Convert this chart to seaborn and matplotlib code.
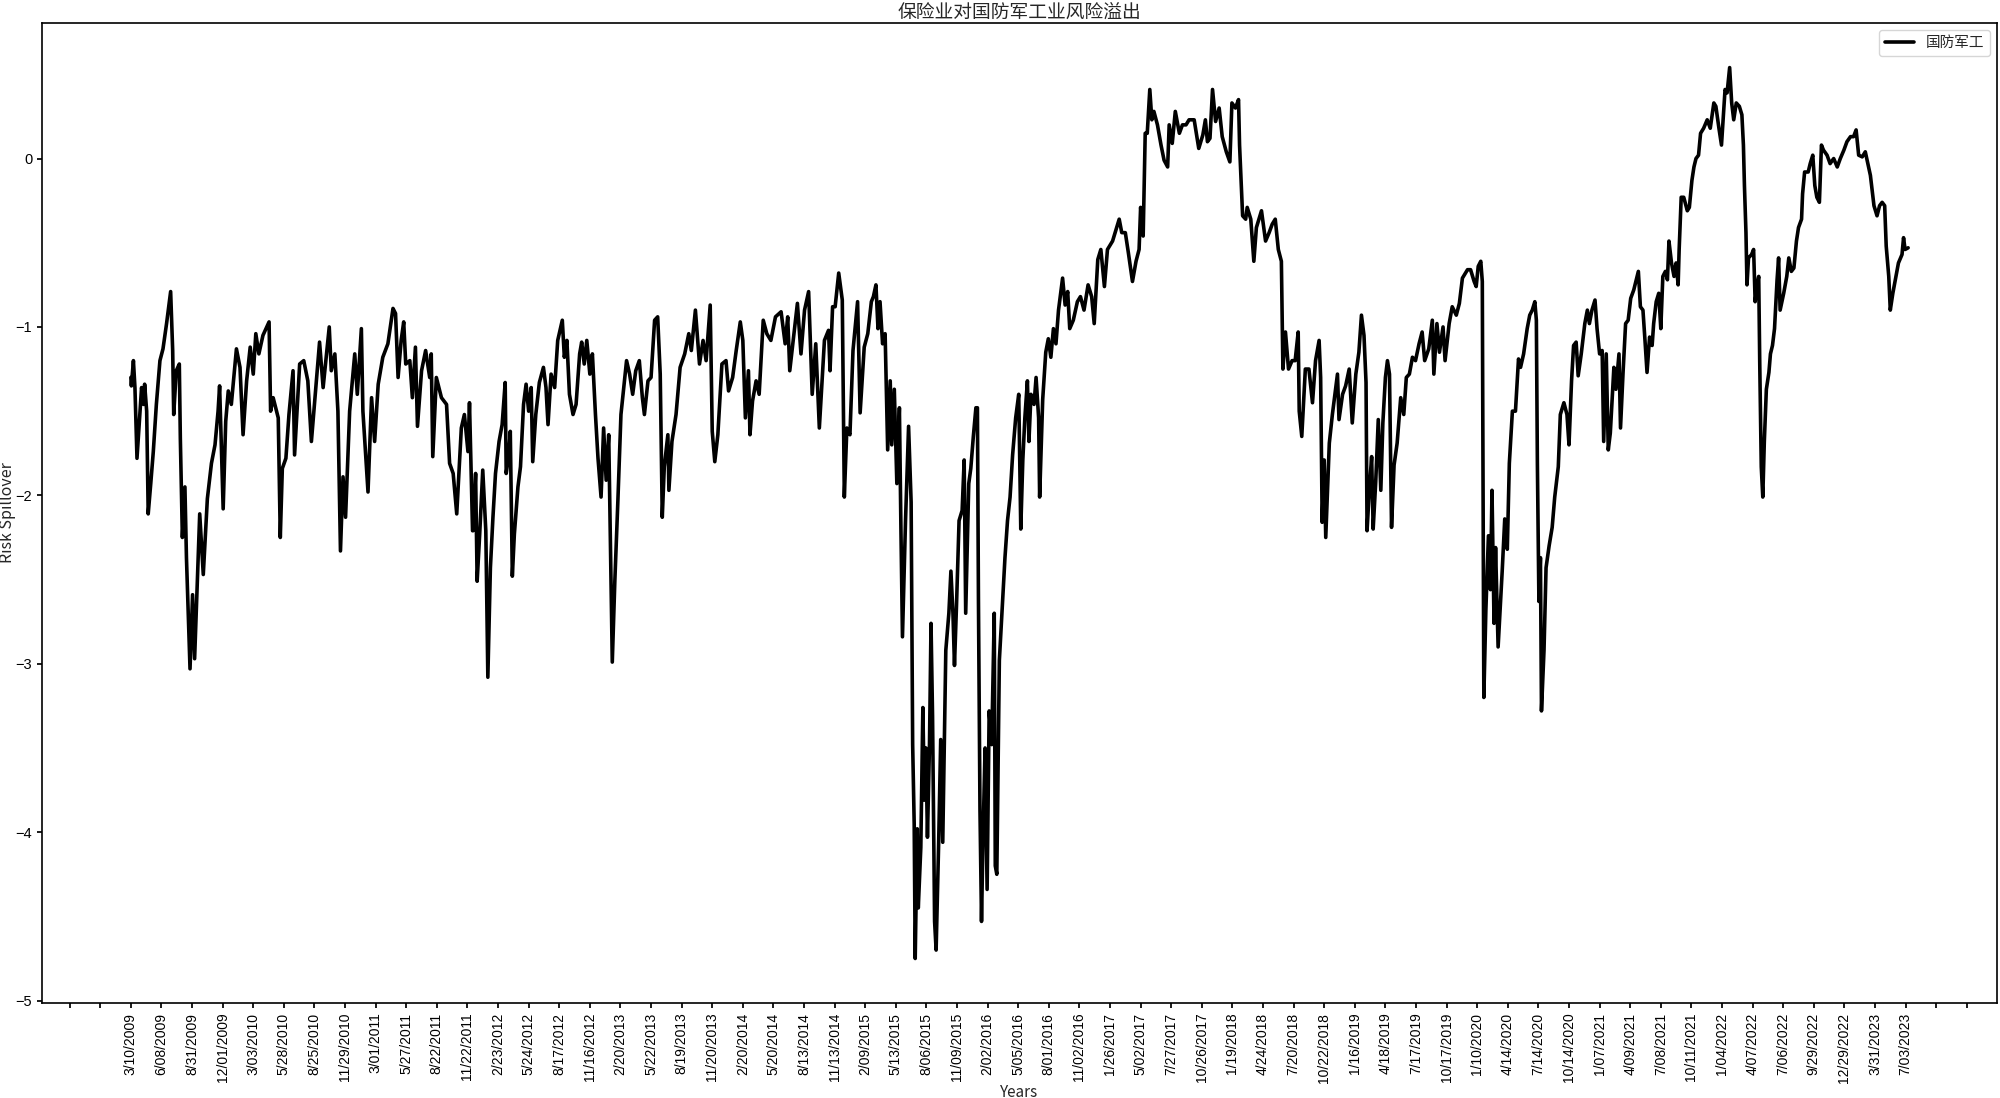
import matplotlib
matplotlib.use("Agg")
import matplotlib.pyplot as plt
from matplotlib.ticker import MultipleLocator, FuncFormatter
import pandas as pd
import seaborn as sns

# date labels, one every 60 trading days starting at day 0
tick_dates = [
    '3/10/2009', '6/08/2009', '8/31/2009', '12/01/2009', '3/03/2010', '5/28/2010',
    '8/25/2010', '11/29/2010', '3/01/2011', '5/27/2011', '8/22/2011', '11/22/2011',
    '2/23/2012', '5/24/2012', '8/17/2012', '11/16/2012', '2/20/2013', '5/22/2013',
    '8/19/2013', '11/20/2013', '2/20/2014', '5/20/2014', '8/13/2014', '11/13/2014',
    '2/09/2015', '5/13/2015', '8/06/2015', '11/09/2015', '2/02/2016', '5/05/2016',
    '8/01/2016', '11/02/2016', '1/26/2017', '5/02/2017', '7/27/2017', '10/26/2017',
    '1/19/2018', '4/24/2018', '7/20/2018', '10/22/2018', '1/16/2019', '4/18/2019',
    '7/17/2019', '10/17/2019', '1/10/2020', '4/14/2020', '7/14/2020', '10/14/2020',
    '1/07/2021', '4/09/2021', '7/08/2021', '10/11/2021', '1/04/2022', '4/07/2022',
    '7/06/2022', '9/29/2022', '12/29/2022', '3/31/2023', '7/03/2023',
]
tick_step = 60

# trading-day index and risk spillover value
trade_day = [
    0, 1, 5, 8, 12, 18, 21, 25, 27, 31, 34, 39, 44, 50, 57, 63, 70, 78, 82, 84,
    89, 95, 97, 101, 106, 109, 116, 121, 125, 135, 142, 150, 158, 165, 171, 174, 181, 186, 191, 197,
    207, 214, 220, 227, 234, 240, 245, 251, 259, 271, 274, 279, 289, 293, 297, 304, 310, 318, 321, 331,
    339, 347, 354, 361, 370, 377, 383, 389, 393, 400, 406, 411, 416, 421, 429, 439, 444, 452, 455, 465,
    472, 478, 485, 494, 504, 514, 519, 524, 530, 535, 539, 547, 552, 558, 562, 570, 578, 586, 589, 592,
    599, 609, 619, 625, 632, 639, 648, 654, 661, 664, 670,
    671, 676, 679, 684, 690, 696, 700, 705, 710, 715, 722, 728, 734, 736, 741, 744, 748, 752, 759, 764,
    770, 775, 780, 785, 788, 794, 801, 809, 814, 818, 824, 831, 837, 846, 850, 855, 860, 867, 873, 880,
    884, 889, 894, 900, 905, 911, 916, 922, 927, 932, 937, 944, 949, 955, 961, 968, 972, 978, 984, 990,
    997, 1003, 1007, 1014, 1020, 1027, 1033, 1038, 1042, 1046, 1053, 1055, 1061, 1069, 1077, 1086, 1094, 1099, 1107, 1115,
    1122, 1128, 1136, 1140, 1145, 1151, 1159, 1167, 1172, 1180, 1187, 1195, 1200, 1205, 1211, 1214, 1219, 1226, 1232, 1240,
    1247, 1255, 1264, 1275, 1283, 1288, 1292, 1301, 1307, 1314, 1321, 1329, 1336, 1343, 1350, 1360, 1368, 1371, 1376, 1381,
    1388, 1395, 1399, 1404, 1410, 1416,
    1425, 1430, 1438, 1445, 1452, 1456, 1461, 1465, 1469, 1474, 1479, 1484, 1489, 1492, 1497, 1502, 1507, 1510, 1513, 1519,
    1525, 1530, 1533, 1536, 1538, 1542, 1544, 1549, 1553, 1556, 1559, 1562, 1566, 1569, 1572, 1576, 1579, 1584, 1588, 1592,
    1598, 1604, 1608, 1612, 1615, 1619, 1624, 1630, 1634, 1637, 1643, 1647, 1652, 1657, 1660, 1662, 1665, 1668, 1671, 1675,
    1679, 1683, 1688, 1693, 1695, 1698, 1703, 1709, 1714, 1719, 1724, 1729, 1735, 1741, 1745, 1749, 1753, 1758, 1761, 1765,
    1771, 1775, 1780, 1782, 1788, 1794, 1799, 1804, 1809, 1814, 1819, 1827, 1832, 1837, 1841, 1848, 1856, 1862, 1869, 1877,
    1884, 1889, 1896, 1902, 1909, 1915, 1925,
    1938, 1943, 1950, 1956, 1964, 1971, 1977, 1980, 1985, 1989, 1993, 1998, 2002, 2006, 2013, 2020, 2026, 2033, 2036, 2042,
    2048, 2056, 2062, 2069, 2075, 2085, 2094, 2102, 2107, 2111, 2116, 2121, 2127, 2134, 2140, 2148, 2155, 2159, 2166, 2172,
    2174, 2180, 2186, 2189, 2196, 2202, 2207, 2212, 2217, 2225, 2232, 2238, 2244, 2250, 2256, 2259, 2264, 2270, 2277, 2283,
    2289, 2291, 2296, 2303, 2310, 2317, 2323, 2330, 2333, 2336, 2340, 2343, 2350, 2356, 2361, 2366, 2369, 2376, 2382, 2389,
    2395, 2402, 2408, 2413, 2418, 2422, 2424, 2429, 2433, 2436, 2441, 2446, 2451, 2455, 2460, 2464, 2468, 2472, 2477, 2483,
    2490, 2496, 2501, 2507, 2513, 2519, 2526, 2532, 2537, 2545, 2552, 2555, 2561, 2566, 2573, 2577, 2585, 2591, 2599, 2605,
    2611, 2621, 2627, 2634, 2638, 2642, 2647, 2650, 2653, 2657, 2662, 2666, 2669, 2673, 2676, 2681,
    2689, 2694, 2699, 2703, 2709, 2715, 2721, 2725, 2731, 2738, 2743, 2748, 2753, 2756, 2758, 2761, 2764, 2766, 2771, 2775,
    2781, 2787, 2792, 2799, 2803, 2810, 2816, 2820, 2825, 2829, 2834, 2838, 2844, 2851, 2856, 2860, 2865, 2871, 2875, 2880,
    2885, 2888, 2893, 2897, 2901, 2908, 2912, 2918, 2921, 2926, 2931, 2936, 2941, 2947, 2956, 2960, 2965, 2969, 2973, 2978,
    2983, 2986, 2991, 2996, 3000, 3004, 3009, 3013, 3016, 3021, 3026, 3030, 3034, 3036, 3040, 3045, 3052, 3056, 3061, 3065,
    3069, 3074, 3078, 3084, 3091, 3097, 3104, 3108, 3114, 3119, 3126, 3130, 3135, 3139, 3143, 3148, 3154, 3159, 3162, 3164,
    3167, 3169, 3172, 3178, 3182, 3185, 3189, 3192, 3194, 3197, 3200, 3203, 3207, 3212, 3215, 3219, 3223, 3228, 3231, 3234,
    3241, 3247, 3251, 3256, 3261, 3266, 3270, 3276, 3278, 3282, 3289, 3293, 3298, 3302, 3306, 3311, 3315, 3319, 3326, 3332,
    3339, 3346, 3352, 3359, 3365, 3372, 3378, 3383, 3388, 3395, 3401, 3406, 3411, 3418, 3424, 3429, 3434, 3439, 3442, 3447,
    3450, 3455, 3461, 3466, 3473, 3476, 3479, 3485,
]
spill = [
    -1.30, -1.35, -1.20, -1.36, -1.78, -1.50, -1.36, -1.46, -1.34, -1.50, -2.11, -1.93, -1.74, -1.46, -1.20, -1.13, -0.98, -0.79, -1.14, -1.52,
    -1.26, -1.22, -1.66, -2.25, -1.95, -2.37, -3.03, -2.59, -2.97, -2.11, -2.47, -2.02, -1.81, -1.70, -1.50, -1.35, -2.08, -1.56, -1.38, -1.46,
    -1.13, -1.24, -1.64, -1.32, -1.12, -1.28, -1.04, -1.16, -1.05, -0.97, -1.50, -1.42, -1.54, -2.25, -1.84, -1.78, -1.52, -1.26, -1.76, -1.22,
    -1.20, -1.32, -1.68, -1.42, -1.09, -1.36, -1.18, -1.00, -1.26, -1.16, -1.50, -2.33, -1.89, -2.13, -1.50, -1.16, -1.40, -1.01, -1.50, -1.98,
    -1.42, -1.68, -1.34, -1.18, -1.10, -0.89, -0.92, -1.30, -1.08, -0.97, -1.22, -1.20, -1.42, -1.12, -1.59, -1.26, -1.14, -1.30, -1.16, -1.77,
    -1.30, -1.42, -1.46, -1.81, -1.87, -2.11, -1.60, -1.52, -1.74, -1.45, -2.21,
    -2.21, -1.87, -2.51, -2.23, -1.85, -2.21, -3.08, -2.43, -2.13, -1.87, -1.68, -1.58, -1.33, -1.87, -1.76, -1.62, -2.48, -2.23, -1.95, -1.83,
    -1.46, -1.34, -1.50, -1.36, -1.80, -1.52, -1.33, -1.24, -1.36, -1.58, -1.28, -1.36, -1.08, -0.96, -1.18, -1.08, -1.40, -1.52, -1.46, -1.16,
    -1.09, -1.22, -1.08, -1.28, -1.16, -1.52, -1.78, -2.01, -1.60, -1.91, -1.64, -2.99, -2.51, -2.03, -1.52, -1.32, -1.20, -1.28, -1.40, -1.26,
    -1.20, -1.42, -1.52, -1.32, -1.30, -0.96, -0.94, -1.28, -2.13, -1.83, -1.64, -1.97, -1.68, -1.52, -1.24, -1.16, -1.04, -1.14, -0.90, -1.22,
    -1.08, -1.20, -0.87, -1.62, -1.80, -1.64, -1.22, -1.20, -1.38, -1.30, -1.14, -0.97, -1.08, -1.54, -1.26, -1.64, -1.44, -1.32, -1.40, -0.96,
    -1.04, -1.08, -0.94, -0.91, -1.10, -0.94, -1.26, -1.02, -0.86, -1.16, -0.90, -0.79, -1.40, -1.10, -1.60, -1.08, -1.02, -1.26, -0.88, -0.88,
    -0.68, -0.84, -2.01, -1.60, -1.64, -1.14,
    -0.85, -1.51, -1.12, -1.04, -0.85, -0.82, -0.75, -1.01, -0.85, -1.10, -1.04, -1.73, -1.32, -1.70, -1.37, -1.93, -1.48, -2.20, -2.84, -2.15,
    -1.59, -2.04, -3.48, -3.95, -4.75, -3.98, -4.45, -4.09, -3.26, -3.81, -3.50, -4.03, -3.48, -2.76, -3.31, -4.53, -4.70, -4.06, -3.45, -4.06,
    -2.92, -2.70, -2.45, -2.70, -3.01, -2.65, -2.15, -2.09, -1.79, -2.70, -1.93, -1.84, -1.65, -1.48, -1.48, -2.62, -3.87, -4.53, -4.03, -3.50,
    -4.34, -3.28, -3.48, -2.70, -4.20, -4.25, -2.98, -2.65, -2.37, -2.15, -2.01, -1.76, -1.54, -1.40, -2.20, -1.79, -1.54, -1.32, -1.68, -1.40,
    -1.46, -1.30, -1.54, -2.01, -1.43, -1.15, -1.07, -1.18, -1.01, -1.10, -0.90, -0.71, -0.87, -0.79, -1.01, -0.96, -0.85, -0.82, -0.90, -0.75,
    -0.82, -0.98, -0.60, -0.54, -0.76, -0.54, -0.49,
    -0.36, -0.44, -0.44, -0.56, -0.73, -0.61, -0.54, -0.29, -0.46, 0.15, 0.15, 0.41, 0.23, 0.28, 0.20, 0.08, -0.01, -0.05, 0.20, 0.09,
    0.28, 0.15, 0.20, 0.20, 0.23, 0.23, 0.06, 0.14, 0.23, 0.10, 0.12, 0.41, 0.22, 0.30, 0.13, 0.04, -0.02, 0.33, 0.30, 0.35,
    0.08, -0.34, -0.36, -0.29, -0.36, -0.61, -0.41, -0.36, -0.31, -0.49, -0.44, -0.39, -0.36, -0.54, -0.61, -1.25, -1.03, -1.25, -1.20, -1.20,
    -1.03, -1.50, -1.65, -1.25, -1.25, -1.45, -1.20, -1.08, -1.30, -2.16, -1.79, -2.25, -1.69, -1.52, -1.40, -1.28, -1.55, -1.40, -1.35, -1.25,
    -1.57, -1.28, -1.15, -0.93, -1.05, -1.33, -2.21, -1.94, -1.77, -2.20, -1.92, -1.55, -1.97, -1.57, -1.30, -1.20, -1.28, -2.19, -1.82, -1.69,
    -1.42, -1.52, -1.30, -1.28, -1.18, -1.20, -1.10, -1.03, -1.20, -1.13, -0.96, -1.28, -0.98, -1.15, -1.00, -1.20, -0.98, -0.88, -0.93, -0.86,
    -0.71, -0.66, -0.66, -0.73, -0.76, -0.64, -0.61, -0.73, -3.20, -2.68, -2.24, -2.56, -1.97, -2.76, -2.31, -2.90,
    -2.45, -2.14, -2.32, -1.81, -1.50, -1.50, -1.19, -1.24, -1.16, -1.01, -0.93, -0.90, -0.85, -0.96, -1.81, -2.63, -2.37, -3.28, -2.92, -2.43,
    -2.30, -2.19, -2.01, -1.83, -1.52, -1.45, -1.52, -1.70, -1.32, -1.11, -1.09, -1.29, -1.16, -0.98, -0.90, -0.98, -0.90, -0.84, -1.01, -1.16,
    -1.14, -1.68, -1.16, -1.73, -1.63, -1.24, -1.37, -1.16, -1.60, -1.27, -0.98, -0.96, -0.83, -0.78, -0.67, -0.88, -0.90, -1.08, -1.27, -1.06,
    -1.11, -0.98, -0.85, -0.80, -1.01, -0.70, -0.67, -0.72, -0.49, -0.62, -0.70, -0.62, -0.75, -0.54, -0.23, -0.23, -0.31, -0.29, -0.13, -0.05,
    0.00, 0.02, 0.15, 0.18, 0.23, 0.18, 0.33, 0.31, 0.18, 0.08, 0.41, 0.39, 0.54, 0.33, 0.23, 0.33, 0.31, 0.26, 0.08, -0.16,
    -0.44, -0.75, -0.59, -0.57, -0.54, -0.85, -0.75, -0.70, -1.21, -1.83, -2.01, -1.68, -1.37, -1.27, -1.16, -1.11, -1.01, -0.72, -0.59, -0.90,
    -0.80, -0.70, -0.59, -0.67, -0.65, -0.49, -0.41, -0.36, -0.21, -0.08, -0.08, -0.03, 0.02, -0.16, -0.23, -0.26, 0.08, 0.05, 0.02, -0.03,
    0.00, -0.05, 0.00, 0.05, 0.10, 0.13, 0.13, 0.17, 0.02, 0.01, 0.04, -0.03, -0.10, -0.28, -0.34, -0.28, -0.26, -0.28, -0.52, -0.70,
    -0.90, -0.80, -0.70, -0.62, -0.57, -0.47, -0.54, -0.53,
]

df = pd.DataFrame({'day': trade_day, 'spill': spill})

sns.set_theme(style="ticks", rc={
    'axes.edgecolor': 'black',
    'axes.linewidth': 1.2,
    'xtick.major.size': 3.5,
    'ytick.major.size': 3.5,
    'xtick.color': 'black',
    'ytick.color': 'black',
})
plt.rcParams['font.family'] = ['Noto Sans CJK SC', 'DejaVu Sans']

fig = plt.figure(figsize=(20, 10.98), dpi=100)
ax = fig.add_axes([0.021, 0.0865, 0.9775, 0.8925])

sns.lineplot(data=df, x='day', y='spill', color='black', linewidth=2.6,
             label='国防军工', ax=ax)


def date_label(x, pos):
    k = int(round(x / tick_step))
    if x < 0 or k >= len(tick_dates):
        return ''
    return tick_dates[k]


ax.xaxis.set_major_locator(MultipleLocator(tick_step))
ax.xaxis.set_major_formatter(FuncFormatter(date_label))
ax.set_yticks([-5, -4, -3, -2, -1, 0])
ax.tick_params(axis='x', labelrotation=90, labelsize=10)
ax.tick_params(axis='y', labelsize=10.5)
for lab in ax.get_xticklabels() + ax.get_yticklabels():
    lab.set_family(['Liberation Sans', 'DejaVu Sans'])

ax.set_title('保险业对国防军工业风险溢出', fontsize=13.5, pad=3)
ax.set_xlabel('Years', fontsize=11, va='center')
ax.set_ylabel('Risk Spillover', fontsize=11.5, va='center')
ax.xaxis.set_label_coords(0.5, -0.0918)
ax.yaxis.set_label_coords(-0.0175, 0.5)
ax.legend(loc='upper right', fontsize=10.5, fancybox=True, framealpha=0.8)

fig.savefig('out.png', dpi=100)
plt.close(fig)
